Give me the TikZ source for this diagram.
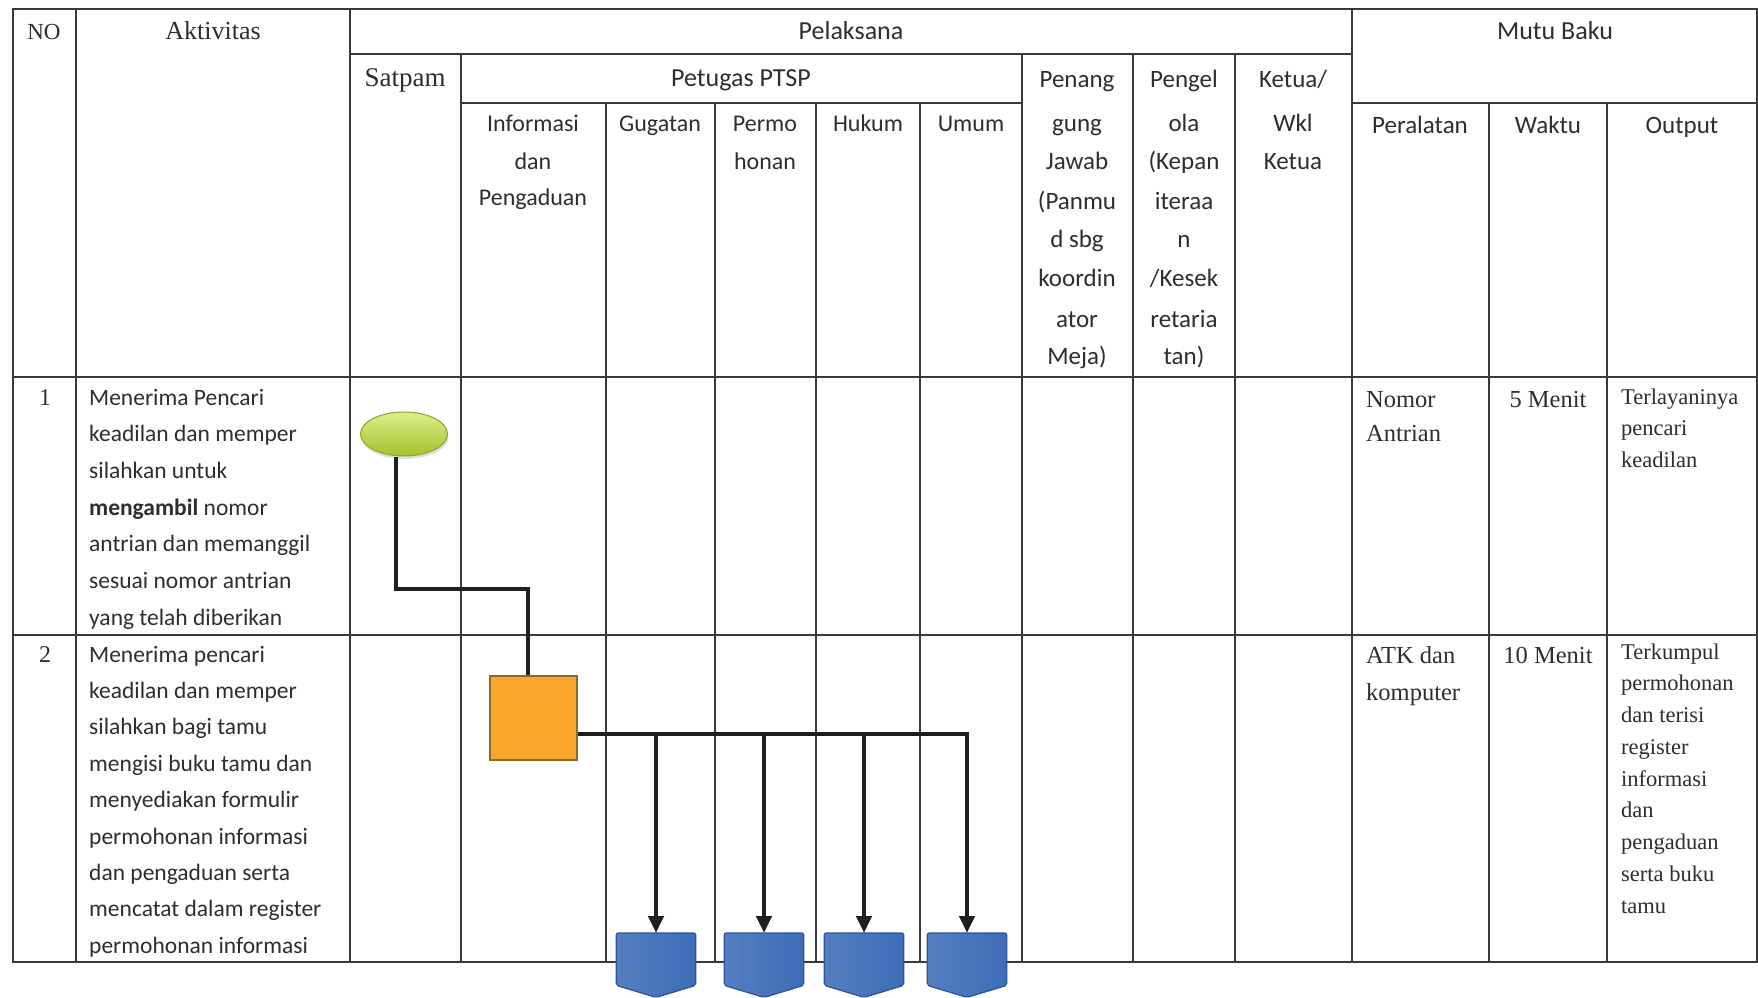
\documentclass[tikz,border=0pt]{standalone}
\usepackage{fontspec}
\setmainfont{Liberation Serif}
\newfontfamily\calib{Carlito}
\usetikzlibrary{arrows.meta,shapes.geometric,shadows}
\definecolor{gridc}{HTML}{3A3A3A}
\definecolor{ink}{HTML}{2E2E2E}
\definecolor{gtop}{HTML}{DCEE8C}
\definecolor{gbot}{HTML}{A4C22C}
\definecolor{gline}{HTML}{8CA626}
\definecolor{orfill}{HTML}{FAA62B}
\definecolor{orline}{HTML}{8A6A30}
\definecolor{blfill}{HTML}{3D6DB7}
\definecolor{blline}{HTML}{2C5496}
\tikzset{
  gridl/.style={draw=gridc, line width=1.6pt},
  hs/.style={font=\fontsize{26}{30}\selectfont, text=ink, inner sep=0pt, anchor=base},
  hd/.style={font=\calib\fontsize{26}{30}\selectfont, text=ink, inner sep=0pt, anchor=base},
  sub/.style={font=\calib\fontsize{24}{28}\selectfont, text=ink, inner sep=0pt, anchor=base},
  act/.style={font=\calib\fontsize{23.5}{28}\selectfont, text=ink, inner sep=0pt, anchor=base west},
  ser/.style={font=\fontsize{24.5}{28}\selectfont, text=ink, inner sep=0pt},
  outp/.style={font=\fontsize{22.5}{26}\selectfont, text=ink, inner sep=0pt, anchor=base west},
  conn/.style={line width=4.5pt, draw=black!88},
  arr/.style={conn, -{Triangle[width=15pt,length=17pt]}},
  startnode/.style={ellipse, minimum width=87pt, minimum height=44pt, inner sep=0pt,
     top color=gtop, bottom color=gbot, draw=gline, line width=1pt,
     drop shadow={opacity=0.25, shadow xshift=1pt, shadow yshift=-3pt}},
  procbox/.style={rectangle, minimum width=87pt, minimum height=84pt, inner sep=0pt,
     fill=orfill, draw=orline, line width=1.2pt},
  offpage/.style={rectangle, minimum width=79pt, minimum height=52pt, inner sep=0pt, anchor=north},
  offfill/.style={left color=blfill!88!white, right color=blfill, draw=blline, line width=1.2pt,
     rounded corners=2pt}
}
\begin{document}
\begin{tikzpicture}[x=1pt,y=-1pt]
\useasboundingbox (0,0) rectangle (1758,998);
\fill[white] (0,0) rectangle (1758,998);

% ---------- grid ----------
\draw[gridl] (13,9) rectangle (1757,962);
\draw[gridl] (13,377) -- (1757,377);
\draw[gridl] (13,635) -- (1757,635);
\draw[gridl] (350,54) -- (1352,54);
\draw[gridl] (461,103) -- (1022,103);
\draw[gridl] (1352,103) -- (1757,103);
\foreach \x in {76,350,1352} \draw[gridl] (\x,9) -- (\x,962);
\foreach \x in {461,1022,1133,1235} \draw[gridl] (\x,54) -- (\x,962);
\foreach \x in {606,715,816,920,1489,1607} \draw[gridl] (\x,103) -- (\x,962);

% ---------- headers ----------
\node[hs, font=\fontsize{23}{28}\selectfont] (hNO) at (44,40) {NO};
\node[hs] (hAkt) at (213,40) {Aktivitas};
\node[hd] (hPel) at (851,40) {Pelaksana};
\node[hd] (hMutu) at (1555,40) {Mutu Baku};
\node[hs, font=\fontsize{27}{30}\selectfont] (hSat) at (405,86) {Satpam};
\node[hd] (hPtsp) at (741,86) {Petugas PTSP};

\foreach \tx/\yy [count=\i] in {{Penang}/87,{gung}/131,{Jawab}/169,{(Panmu}/209,{d sbg}/247,{koordin}/286,{ator}/327,{Meja)}/364}
  \node[hd, font=\calib\fontsize{25}{30}\selectfont] (pj\i) at (1077,\yy) {\tx};
\foreach \tx/\yy [count=\i] in {{Pengel}/87,{ola}/131,{(Kepan}/169,{iteraa}/209,{n}/247,{/Kesek}/286,{retaria}/327,{tan)}/364}
  \node[hd, font=\calib\fontsize{25}{30}\selectfont] (pk\i) at (1184,\yy) {\tx};
\foreach \tx/\yy [count=\i] in {{Ketua/}/87,{Wkl}/131,{Ketua}/169}
  \node[hd, font=\calib\fontsize{25}{30}\selectfont] (kt\i) at (1293,\yy) {\tx};

\node[sub] (sInfo1) at (533,131) {Informasi};
\node[sub] (sInfo2) at (533,169) {dan};
\node[sub] (sInfo3) at (533,205) {Pengaduan};
\node[sub] (sGug) at (660,131) {Gugatan};
\node[sub] (sPer1) at (765,131) {Permo};
\node[sub] (sPer2) at (765,169) {honan};
\node[sub] (sHuk) at (868,131) {Hukum};
\node[sub] (sUm) at (971,131) {Umum};
\node[sub, font=\calib\fontsize{25}{28}\selectfont] (sAlat) at (1420,133) {Peralatan};
\node[sub, font=\calib\fontsize{25}{28}\selectfont] (sWak) at (1548,133) {Waktu};
\node[sub, font=\calib\fontsize{25}{28}\selectfont] (sOut) at (1682,133) {Output};

% ---------- row 1 ----------
\node[hs, font=\fontsize{24}{28}\selectfont] (n1) at (45,405) {1};
\foreach \tx [count=\i] in {{Menerima Pencari},{keadilan dan memper},{silahkan untuk},{{\bfseries mengambil} nomor},{antrian dan memanggil},{sesuai nomor antrian},{yang telah diberikan}}
  \node[act] (a1-\i) at (89,{405+(\i-1)*36.7}) {\tx};
\node[ser, anchor=base west] (p1a) at (1366,407) {Nomor};
\node[ser, anchor=base west] (p1b) at (1366,441) {Antrian};
\node[ser, anchor=base] (w1) at (1548,407) {5 Menit};
\foreach \tx [count=\i] in {{Terlayaninya},{pencari},{keadilan}}
  \node[outp] (o1-\i) at (1621,{404+(\i-1)*31.5}) {\tx};

% ---------- row 2 ----------
\node[hs, font=\fontsize{24}{28}\selectfont] (n2) at (45,662) {2};
\foreach \tx [count=\i] in {{Menerima pencari},{keadilan dan memper},{silahkan bagi tamu},{mengisi buku tamu dan},{menyediakan formulir},{permohonan informasi},{dan pengaduan serta},{mencatat dalam register},{permohonan informasi}}
  \node[act] (a2-\i) at (89,{662+(\i-1)*36.4}) {\tx};
\node[ser, anchor=base west] (p2a) at (1366,663) {ATK dan};
\node[ser, anchor=base west] (p2b) at (1366,700) {komputer};
\node[ser, anchor=base] (w2) at (1548,663) {10 Menit};
\foreach \tx [count=\i] in {{Terkumpul},{permohonan},{dan terisi},{register},{informasi},{dan},{pengaduan},{serta buku},{tamu}}
  \node[outp] (o2-\i) at (1621,{659+(\i-1)*31.75}) {\tx};

% ---------- flow ----------
\node[startnode] (ell) at (404,434) {};
\node[procbox] (box) at (533.5,718) {};
\node[offpage] (b1) at (656,933) {};
\node[offpage] (b2) at (764,933) {};
\node[offpage] (b3) at (864,933) {};
\node[offpage] (b4) at (967,933) {};
\foreach \n in {b1,b2,b3,b4}
  \path[offfill] (\n.north west) -- (\n.north east) -- (\n.south east)
     -- ([yshift=-12pt]\n.south) -- (\n.south west) -- cycle;

\coordinate (bend) at (528,589);
\coordinate (trunk) at (600,734);
\draw[conn] ([xshift=-8pt]ell.south) |- (bend) -- ([xshift=-5.5pt]box.north);
\draw[arr] ([yshift=-16pt]box.east) -| (b4.north);
\draw[arr] (b1.north |- trunk) -- (b1.north);
\draw[arr] (b2.north |- trunk) -- (b2.north);
\draw[arr] (b3.north |- trunk) -- (b3.north);
\end{tikzpicture}
\end{document}
